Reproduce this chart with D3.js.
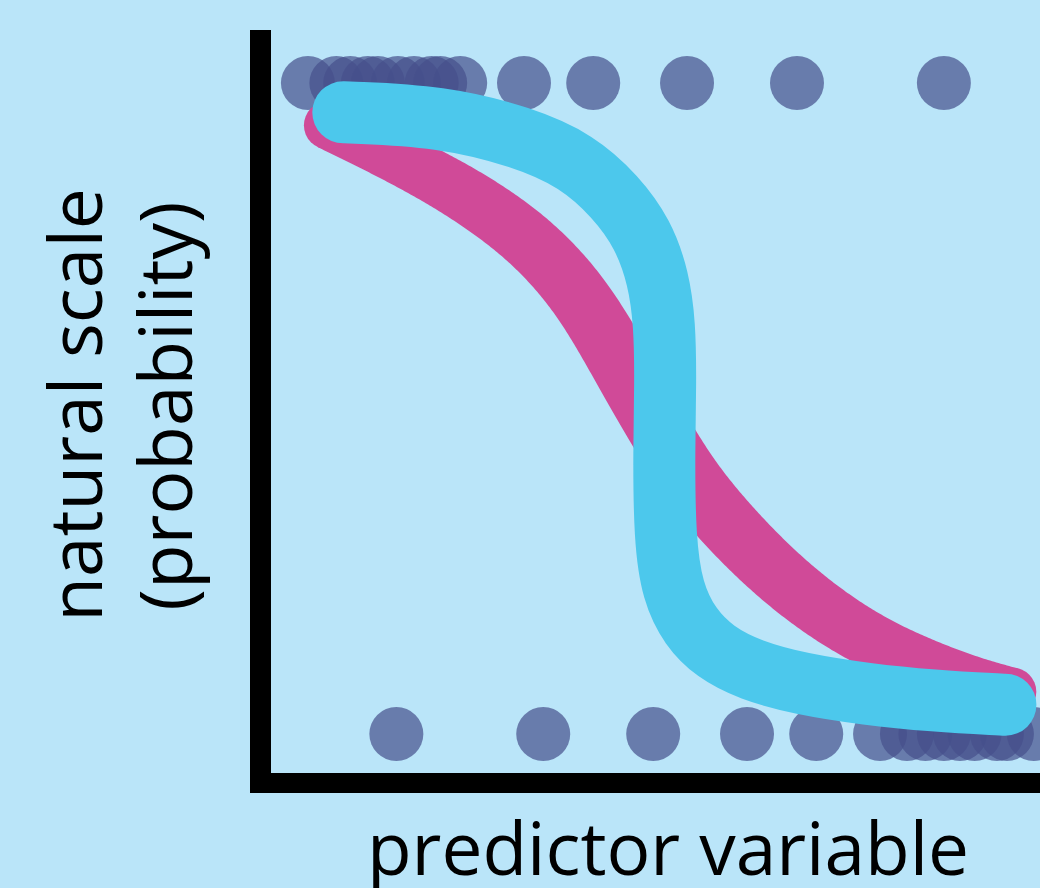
<!DOCTYPE html>
<html>
<head>
<meta charset="utf-8">
<script src="https://cdn.jsdelivr.net/npm/d3@7"></script>
<style>
  html, body { margin: 0; padding: 0; background: #bae5f9; }
  svg { display: block; }
  text { font-family: "Open Sans", "Noto Sans", sans-serif; fill: #000; }
</style>
</head>
<body>
<script>
// ---------- data ----------
// observed outcomes (predictor values) at probability 1 (top) and 0 (bottom)
const topDotsX    = [4.8, 8.5, 10.3, 12.6, 13.9, 16.5, 18.6, 20.9, 22.0, 24.6, 32.9, 41.9, 54.1, 68.4, 87.5];
const bottomDotsX = [16.3, 35.4, 49.7, 61.9, 70.9, 79.2, 82.7, 85.1, 87.5, 89.6, 91.5, 94.4, 95.7, 99.2];
const topOutcome = 1;
const bottomOutcome = 0;

// gentle fitted curve (pink)
const pinkX = [7.4, 7.9, 14.8, 23.5, 32.8, 39.3, 43.4, 47.1, 51.2, 55.3, 62.3, 68.8, 75.3, 81.8, 90.5, 96.0, 96.4];
const pinkY = [0.935, 0.932, 0.895, 0.843, 0.770, 0.689, 0.613, 0.535, 0.452, 0.375, 0.283, 0.214, 0.160, 0.120, 0.082, 0.066, 0.065];

// steep fitted curve (cyan)
const cyanX = [9.4, 10.0, 22.0, 32.8, 39.8, 44.8, 48.4, 50.4, 51.2, 51.3, 51.1, 51.2, 52.2, 54.5, 57.7, 62.3, 68.8, 77.5, 86.1, 95.0, 95.5];
const cyanY = [0.955, 0.955, 0.949, 0.917, 0.880, 0.826, 0.768, 0.700, 0.630, 0.540, 0.436, 0.300, 0.218, 0.164, 0.126, 0.098, 0.077, 0.061, 0.051, 0.045, 0.045];

const yLabelLines = ["natural scale", "(probability)"];
const xLabel = "predictor variable";

// ---------- layout ----------
const W = 1040, H = 888;
const svg = d3.select("body").append("svg").attr("width", W).attr("height", H);
svg.append("rect").attr("width", W).attr("height", H).attr("fill", "#bae5f9");

const x = d3.scaleLinear().domain([0, 100]).range([271, 1040]);
const y = d3.scaleLinear().domain([0, 1]).range([734, 83]);

// ---------- dots ----------
const dots = topDotsX.map(v => ({x: v, y: topOutcome}))
  .concat(bottomDotsX.map(v => ({x: v, y: bottomOutcome})));
svg.append("g").selectAll("circle").data(dots).join("circle")
  .attr("cx", d => x(d.x)).attr("cy", d => y(d.y)).attr("r", 27)
  .attr("fill", "#46508c").attr("fill-opacity", 0.7);

// ---------- curves ----------
const line = d3.line().x(d => x(d[0])).y(d => y(d[1])).curve(d3.curveBasis);
const pinkData = pinkX.map((v, i) => [v, pinkY[i]]);
const cyanData = cyanX.map((v, i) => [v, cyanY[i]]);

// pink: tapered band (thinner at the ends)
const tmp = svg.append("path").attr("d", line(pinkData)).attr("fill", "none").attr("stroke", "none");
const node = tmp.node();
const L = node.getTotalLength();
const N = 400;
const pts = d3.range(N + 1).map(i => node.getPointAtLength(L * i / N));
const hw = t => 24 + 7 * Math.sin(Math.PI * t);
const leftSide = [], rightSide = [];
pts.forEach((p, i) => {
  const a = pts[Math.max(0, i - 2)], b = pts[Math.min(N, i + 2)];
  let dx = b.x - a.x, dy = b.y - a.y;
  const len = Math.hypot(dx, dy) || 1;
  dx /= len; dy /= len;
  const w = hw(i / N);
  leftSide.push([p.x - dy * w, p.y + dx * w]);
  rightSide.push([p.x + dy * w, p.y - dx * w]);
});
tmp.remove();
const poly = leftSide.concat(rightSide.reverse());
const gp = svg.append("g").attr("fill", "#d04a98");
gp.append("path").attr("d", d3.line().curve(d3.curveLinearClosed)(poly));
gp.append("circle").attr("cx", pts[0].x).attr("cy", pts[0].y).attr("r", hw(0));
gp.append("circle").attr("cx", pts[N].x).attr("cy", pts[N].y).attr("r", hw(1));

// cyan: constant thick stroke
svg.append("path").attr("d", line(cyanData))
  .attr("fill", "none").attr("stroke", "#4cc8ec")
  .attr("stroke-width", 62).attr("stroke-linecap", "round").attr("stroke-linejoin", "round");

// ---------- axes ----------
svg.append("rect").attr("x", 250).attr("y", 30).attr("width", 21).attr("height", 763).attr("fill", "#000");
svg.append("rect").attr("x", 250).attr("y", 773).attr("width", W - 250).attr("height", 20).attr("fill", "#000");

// ---------- labels ----------
const fs = 73;
svg.append("text").attr("transform", "translate(102,405) rotate(-90)")
  .attr("text-anchor", "middle").attr("font-size", fs).text(yLabelLines[0]);
svg.append("text").attr("transform", "translate(192,406) rotate(-90)")
  .attr("text-anchor", "middle").attr("font-size", fs).text(yLabelLines[1]);
svg.append("text").attr("x", 668).attr("y", 875)
  .attr("text-anchor", "middle").attr("font-size", fs).text(xLabel);
</script>
</body>
</html>
